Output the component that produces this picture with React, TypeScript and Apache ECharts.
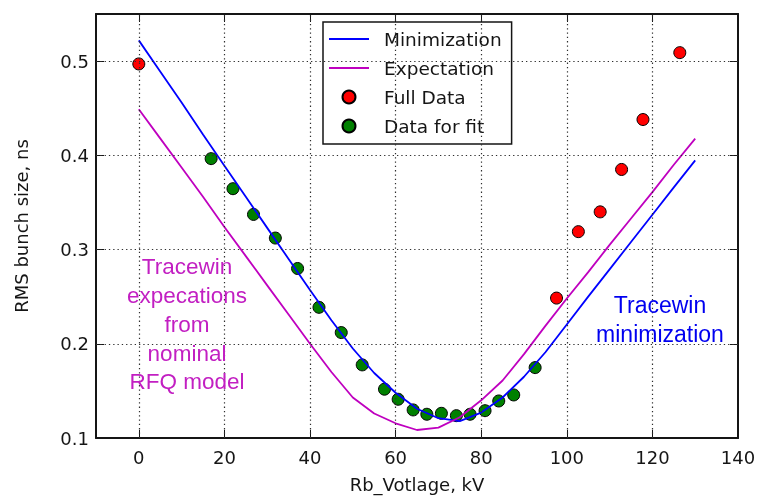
import { useEffect, useRef } from "react";
import * as echarts from "echarts";

// Rb voltage grid (kV) for the two Tracewin curves
const voltageGrid = [
  0, 5, 10, 15, 20, 25, 30, 35, 40, 45, 50, 55, 60, 65, 70, 75, 80, 85, 90, 95,
  100, 105, 110, 115, 120, 125, 130,
];

// Tracewin minimization curve (ns)
const minimizationValues = [
  0.522, 0.489, 0.456, 0.422, 0.389, 0.356, 0.323, 0.29, 0.257, 0.225, 0.195,
  0.169, 0.148, 0.131, 0.121, 0.118, 0.127, 0.143, 0.165, 0.191, 0.2205, 0.25,
  0.279, 0.308, 0.337, 0.366, 0.3947,
];

// Tracewin expectation from the nominal RFQ model (ns)
const expectationValues = [
  0.449, 0.418, 0.387, 0.356, 0.324, 0.293, 0.262, 0.231, 0.2, 0.17, 0.143,
  0.126, 0.1156, 0.1085, 0.111, 0.122, 0.14, 0.161, 0.189, 0.219, 0.248, 0.276,
  0.305, 0.333, 0.361, 0.39, 0.4177,
];

// Measured points outside the fit range
const fullDataVoltage = [0, 97.6, 102.7, 107.8, 112.8, 117.8, 126.4];
const fullDataSize = [0.497, 0.2485, 0.319, 0.34, 0.385, 0.438, 0.509];

// Measured points used for the fit
const fitVoltage = [
  16.9, 22.0, 26.8, 31.9, 37.1, 42.1, 47.3, 52.2, 57.4, 60.6, 64.1, 67.3, 70.7,
  74.2, 77.4, 80.9, 84.1, 87.6, 92.6,
];
const fitSize = [
  0.3965, 0.3646, 0.3373, 0.3122, 0.2799, 0.2387, 0.2119, 0.1776, 0.1518,
  0.1411, 0.1298, 0.1252, 0.1262, 0.1237, 0.1252, 0.129, 0.1393, 0.1457,
  0.1747,
];

// Dotted grid positions (inner tick values)
const gridVoltages = [0, 20, 40, 60, 80, 100, 120];
const gridSizes = [0.2, 0.3, 0.4, 0.5];

const X_MIN = -10;
const X_MAX = 140;
const Y_MIN = 0.1;
const Y_MAX = 0.55;

const AXIS_FONT = "DejaVu Sans";
const NOTE_FONT = "Liberation Sans";
const INK = "#151515";
const LINE_ICON = "path://M0,0H40V1.8H0Z";

const pairs = (xs: number[], ys: number[]) => xs.map((x, i) => [x, ys[i]]);

const frameLine = () => ({
  show: true,
  onZero: false,
  lineStyle: { color: INK, width: 2 },
});
const inwardTicks = () => ({
  show: true,
  inside: true,
  length: 8,
  lineStyle: { color: INK, width: 1 },
});

export default function App() {
  const ref = useRef<HTMLDivElement>(null);

  useEffect(() => {
    const chart = echarts.init(ref.current!, null, { renderer: "svg" });

    chart.setOption({
      animation: false,
      grid: { left: 96, right: 21, top: 14, bottom: 60 },
      xAxis: [
        {
          type: "value",
          min: X_MIN,
          max: X_MAX,
          splitNumber: 7,
          name: "Rb_Votlage, kV",
          nameLocation: "middle",
          nameGap: 37,
          nameTextStyle: { fontFamily: AXIS_FONT, fontSize: 18, color: INK },
          axisLine: frameLine(),
          axisTick: inwardTicks(),
          splitLine: { show: false },
          axisLabel: {
            margin: 10,
            fontFamily: AXIS_FONT,
            fontSize: 18,
            color: INK,
            formatter: (v: number) => (v === X_MIN ? "" : String(v)),
          },
        },
        {
          type: "value",
          position: "top",
          min: X_MIN,
          max: X_MAX,
          splitNumber: 7,
          axisLine: frameLine(),
          axisTick: inwardTicks(),
          splitLine: { show: false },
          axisLabel: { show: false },
        },
      ],
      yAxis: [
        {
          type: "value",
          min: Y_MIN,
          max: Y_MAX,
          interval: 0.1,
          name: "RMS bunch size, ns",
          nameLocation: "middle",
          nameGap: 66,
          nameTextStyle: { fontFamily: AXIS_FONT, fontSize: 18, color: INK },
          axisLine: frameLine(),
          axisTick: inwardTicks(),
          splitLine: { show: false },
          axisLabel: {
            margin: 7,
            fontFamily: AXIS_FONT,
            fontSize: 18,
            color: INK,
            formatter: (v: number) =>
              Math.abs(v - Y_MAX) < 1e-9 ? "" : v.toFixed(1),
          },
        },
        {
          type: "value",
          position: "right",
          min: Y_MIN,
          max: Y_MAX,
          interval: 0.1,
          axisLine: frameLine(),
          axisTick: inwardTicks(),
          splitLine: { show: false },
          axisLabel: { show: false },
        },
      ],
      legend: {
        orient: "vertical",
        left: 323,
        top: 22,
        padding: [7, 10, 8, 6],
        itemWidth: 40,
        itemHeight: 13,
        itemGap: 9,
        backgroundColor: "#fff",
        borderColor: INK,
        borderWidth: 1.5,
        borderRadius: 0,
        selectedMode: false,
        textStyle: {
          fontFamily: AXIS_FONT,
          fontSize: 18.5,
          lineHeight: 20,
          color: INK,
          padding: [0, 0, 0, 10],
        },
        data: [
          { name: "Minimization", icon: LINE_ICON },
          { name: "Expectation", icon: LINE_ICON },
          { name: "Full Data" },
          { name: "Data for fit" },
        ],
      },
      series: [
        {
          // dotted grid, drawn through the axis scales
          name: "grid",
          type: "line",
          data: [],
          silent: true,
          z: 1,
          markLine: {
            silent: true,
            symbol: ["none", "none"],
            label: { show: false },
            animation: false,
            lineStyle: { color: "#2e2e2e", width: 1.2, type: [1.3, 3] },
            data: [
              ...gridVoltages.map((v) => ({ xAxis: v })),
              ...gridSizes.map((v) => ({ yAxis: v })),
            ],
          },
        },
        {
          name: "Minimization",
          type: "line",
          symbol: "none",
          lineStyle: { color: "#0000ff", width: 1.8 },
          itemStyle: { color: "#0000ff" },
          data: pairs(voltageGrid, minimizationValues),
        },
        {
          name: "Expectation",
          type: "line",
          symbol: "none",
          lineStyle: { color: "#bf00bf", width: 1.8 },
          itemStyle: { color: "#bf00bf" },
          data: pairs(voltageGrid, expectationValues),
        },
        {
          name: "Full Data",
          type: "scatter",
          symbol: "circle",
          symbolSize: 12,
          itemStyle: {
            color: "#ff0000",
            borderColor: "#000",
            borderWidth: 1,
            opacity: 1,
          },
          data: pairs(fullDataVoltage, fullDataSize),
        },
        {
          name: "Data for fit",
          type: "scatter",
          symbol: "circle",
          symbolSize: 12,
          itemStyle: {
            color: "#008000",
            borderColor: "#000",
            borderWidth: 1,
            opacity: 1,
          },
          data: pairs(fitVoltage, fitSize),
        },
      ],
      graphic: [
        {
          type: "text",
          x: 187,
          y: 252.5,
          z: 100,
          style: {
            text: "Tracewin\nexpecations\nfrom\nnominal\nRFQ model",
            fill: "#c21fc2",
            font: `22.5px "${NOTE_FONT}"`,
            textAlign: "center",
            textVerticalAlign: "top",
            lineHeight: 28.75,
          },
        },
        {
          type: "text",
          x: 660,
          y: 290.5,
          z: 100,
          style: {
            text: "Tracewin\nminimization",
            fill: "#0000f0",
            font: `23px "${NOTE_FONT}"`,
            textAlign: "center",
            textVerticalAlign: "top",
            lineHeight: 29,
          },
        },
      ],
    });

    return () => chart.dispose();
  }, []);

  return (
    <div
      ref={ref}
      style={{ position: "fixed", left: 0, top: 0, width: 759, height: 498 }}
    />
  );
}
